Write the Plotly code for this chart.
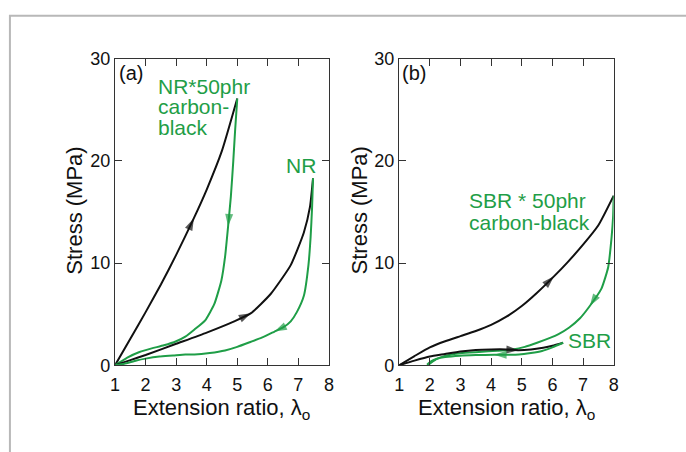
import plotly.graph_objects as go

# ---------------- data ----------------
# Panel (a): natural rubber, filled and unfilled
nr50_load_x = [1.0, 1.5, 2.0, 2.5, 3.0, 3.58, 4.0, 4.5, 5.0]
nr50_load_y = [0.0, 2.6, 5.2, 7.9, 10.8, 14.4, 17.2, 21.0, 26.1]
nr50_load_arrow = 5

nr50_unload_x = [5.0, 4.93, 4.87, 4.79, 4.70, 4.60, 4.48, 4.25, 3.95, 3.6, 3.3, 3.0, 2.6, 2.2, 1.8, 1.4, 1.0]
nr50_unload_y = [26.1, 23.0, 20.0, 16.5, 13.6, 10.6, 8.3, 6.0, 4.4, 3.5, 2.8, 2.35, 1.95, 1.65, 1.3, 0.75, 0.0]
nr50_unload_arrow = 4

nr_load_x = [1.0, 1.5, 2.0, 3.0, 4.0, 4.9, 5.45, 6.1, 6.75, 7.18, 7.38, 7.48]
nr_load_y = [0.0, 0.5, 1.0, 2.1, 3.2, 4.3, 5.1, 7.0, 9.8, 13.0, 15.5, 18.3]
nr_load_arrow = 6

nr_unload_x = [7.48, 7.45, 7.40, 7.33, 7.18, 6.95, 6.75, 6.5, 6.22, 5.8, 5.45, 5.0, 4.6, 4.1, 3.6, 3.3, 2.9, 2.45, 2.0, 1.7, 1.3, 1.0]
nr_unload_y = [18.3, 15.5, 12.5, 9.8, 6.8, 5.2, 4.3, 3.7, 3.3, 2.7, 2.3, 1.8, 1.45, 1.2, 1.05, 1.05, 0.95, 0.85, 0.65, 0.47, 0.15, 0.0]
nr_unload_arrow = 8

# Panel (b): styrene-butadiene rubber, filled and unfilled
sbr50_load_x = [1.0, 1.5, 2.0, 2.5, 3.0, 3.5, 4.0, 4.5, 5.0, 5.5, 6.05, 6.5, 7.0, 7.5, 8.0]
sbr50_load_y = [0.0, 0.9, 1.75, 2.35, 2.85, 3.35, 3.95, 4.75, 5.8, 7.1, 8.7, 10.1, 11.8, 13.7, 16.6]
sbr50_load_arrow = 10

sbr50_unload_x = [8.0, 7.98, 7.93, 7.82, 7.6, 7.22, 6.9, 6.55, 6.2, 5.9, 5.5, 5.1, 4.7, 4.2, 3.6, 3.0, 2.5, 2.2, 1.93]
sbr50_unload_y = [16.6, 14.5, 12.5, 9.6, 7.5, 5.8, 4.6, 3.7, 3.05, 2.65, 2.2, 1.8, 1.55, 1.42, 1.3, 1.18, 0.92, 0.58, 0.0]
sbr50_unload_arrow = 5

sbr_load_x = [1.0, 1.5, 2.0, 2.5, 3.0, 3.5, 4.0, 4.5, 4.9, 5.3, 5.7, 6.0, 6.35]
sbr_load_y = [0.0, 0.45, 0.85, 1.1, 1.35, 1.5, 1.55, 1.55, 1.48, 1.55, 1.72, 1.9, 2.2]
sbr_load_arrow = 8

sbr_unload_x = [6.35, 6.0, 5.66, 5.3, 4.91, 4.5, 4.1, 3.5, 2.98, 2.5, 2.23, 2.05, 1.91]
sbr_unload_y = [2.2, 1.75, 1.4, 1.2, 1.05, 1.02, 1.02, 1.0, 0.94, 0.8, 0.63, 0.4, 0.05]
sbr_unload_arrow = 6

x_ticks = [1, 2, 3, 4, 5, 6, 7, 8]
y_ticks = [0, 10, 20, 30]

# ---------------- styling ----------------
W, H = 686, 452
GREEN = "#1f9e47"
BLACK = "#111111"
FONT = "Liberation Sans, Arial, Helvetica, sans-serif"


def px(xp):
    return xp / W


def py(yp):
    return 1 - yp / H


fig = go.Figure()


def curve(xs, ys, color, arrow_idx, xa, ya):
    fig.add_trace(go.Scatter(
        x=xs, y=ys, mode="lines", xaxis=xa, yaxis=ya,
        line=dict(color=color, width=2, shape="spline", smoothing=0.5),
        hoverinfo="skip", showlegend=False))
    # arrowhead oriented along the curve direction at the chosen point
    k = arrow_idx
    fig.add_trace(go.Scatter(
        x=[xs[k - 1], xs[k]], y=[ys[k - 1], ys[k]], mode="markers",
        xaxis=xa, yaxis=ya,
        marker=dict(symbol="arrow", size=[0, 13], color=color,
                    angleref="previous", line=dict(width=0)),
        hoverinfo="skip", showlegend=False))


curve(nr50_load_x, nr50_load_y, BLACK, nr50_load_arrow, "x", "y")
curve(nr50_unload_x, nr50_unload_y, GREEN, nr50_unload_arrow, "x", "y")
curve(nr_load_x, nr_load_y, BLACK, nr_load_arrow, "x", "y")
curve(nr_unload_x, nr_unload_y, GREEN, nr_unload_arrow, "x", "y")

curve(sbr50_load_x, sbr50_load_y, BLACK, sbr50_load_arrow, "x2", "y2")
curve(sbr50_unload_x, sbr50_unload_y, GREEN, sbr50_unload_arrow, "x2", "y2")
curve(sbr_load_x, sbr_load_y, BLACK, sbr_load_arrow, "x2", "y2")
curve(sbr_unload_x, sbr_unload_y, GREEN, sbr_unload_arrow, "x2", "y2")

axis_common = dict(
    showline=True, linecolor="#333333", linewidth=1.4, mirror="ticks",
    ticks="inside", ticklen=7, tickwidth=1.3, tickcolor="#333333",
    showgrid=False, zeroline=False,
    tickfont=dict(family=FONT, size=18, color=BLACK),
)

y_dom = [py(371.7), py(51.0)]
fig.update_layout(
    width=W, height=H,
    margin=dict(l=0, r=0, t=0, b=0),
    paper_bgcolor="white", plot_bgcolor="white",
    showlegend=False,
    font=dict(family=FONT, color=BLACK),
    xaxis=dict(domain=[px(111.7), px(328.7)], range=[1, 8], tickvals=x_ticks,
               anchor="y", ticklabelstandoff=3, **axis_common),
    yaxis=dict(domain=y_dom, range=[0, 30], tickvals=y_ticks, anchor="x",
               **axis_common),
    xaxis2=dict(domain=[px(400.0), px(617.7)], range=[1, 8], tickvals=x_ticks,
                anchor="y2", ticklabelstandoff=3, **axis_common),
    yaxis2=dict(domain=y_dom, range=[0, 30], tickvals=y_ticks, anchor="x2",
                **axis_common),
)

# light frame around the figure
fig.add_shape(type="rect", xref="paper", yref="paper",
              x0=px(5), x1=1.2, y0=-0.2, y1=py(6),
              line=dict(color="#b8b8b8", width=2), layer="below")


def label(text, x, y, size=21, color=GREEN, xanchor="left", angle=0):
    fig.add_annotation(text=text, xref="paper", yref="paper",
                       x=px(x), y=py(y), xanchor=xanchor, yanchor="middle",
                       showarrow=False, textangle=angle,
                       font=dict(family=FONT, size=size, color=color))


# axis titles
for cx in (71, 360):
    label("Stress (MPa)", cx, 210, size=22, color=BLACK, xanchor="center", angle=-90)
for cx in (220, 509):
    label("Extension ratio, λ<sub>o</sub>", cx, 417, size=22, color=BLACK, xanchor="center")

# panel tags
label("(a)", 127.5, 66, size=20, color=BLACK, xanchor="center")
label("(b)", 415.5, 66, size=20, color=BLACK, xanchor="center")

# curve labels
label("NR*50phr", 153, 80)
label("carbon-", 153, 101)
label("black", 153, 123)
label("NR", 300, 163, xanchor="center")
label("SBR * 50phr", 469, 199)
label("carbon-black", 469, 222)
label("SBR", 593.5, 345.5, xanchor="center")

fig.write_html("out.html")
